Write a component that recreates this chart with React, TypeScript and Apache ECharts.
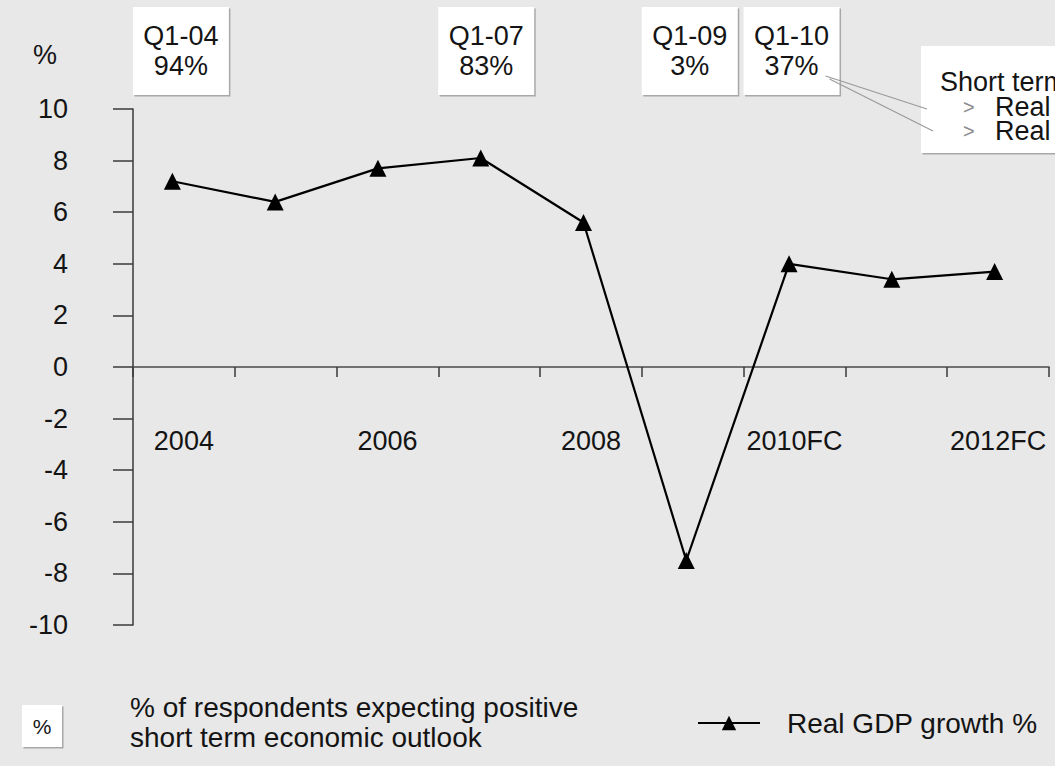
import React, { useEffect, useRef } from "react";
import * as echarts from "echarts";

// ---------- data ----------
const years = ["2004", "2005", "2006", "2007", "2008", "2009", "2010FC", "2011FC", "2012FC"];
const gdpGrowth = [7.2, 6.4, 7.7, 8.1, 5.6, -7.5, 4.0, 3.4, 3.7];
const yMin = -10;
const yMax = 10;
const yStep = 2;
const surveyYears = ["2004", "2007", "2009", "2010FC"];
const surveyQuarters = ["Q1-04", "Q1-07", "Q1-09", "Q1-10"];
const surveyShares = [94, 83, 3, 37];
const seriesName = "Real GDP growth %";
const outlookLegend = ["% of respondents expecting positive", "short term economic outlook"];
const calloutTitle = "Short term economic outlook";
const calloutItems = ["Real GDP growth", "Real private consumption"];
const yUnit = "%";

// ---------- style ----------
const FONT = "'Liberation Sans', Arial, Helvetica, sans-serif";
const FS = 27;
const FS_LEG = 28;
const TXT = "#141414";
const BG = "#e8e8e8";

const GRID_TOP = 109;
const GRID_BOTTOM = 141;
const GRID_H = 766 - GRID_TOP - GRID_BOTTOM;

function whiteBox(x: number, y: number, w: number, h: number) {
  return [
    { type: "rect", shape: { x: x + 1.5, y: y + 1.5, width: w, height: h }, style: { fill: "#a8a8a8" }, z: 10 },
    { type: "rect", shape: { x, y, width: w, height: h }, style: { fill: "#ffffff" }, z: 11 },
  ];
}

function txt(x: number, y: number, text: string, align = "center", size = FS, color = TXT) {
  return {
    type: "text",
    x,
    y,
    z: 12,
    style: { text, fill: color, fontSize: size, fontFamily: FONT, align, verticalAlign: "middle" },
  };
}

export default function App() {
  const ref = useRef<HTMLDivElement>(null);

  useEffect(() => {
    if (!ref.current) return;
    const chart = echarts.init(ref.current, null, { renderer: "svg" });
    // distance from the grid bottom up to the value 0
    const zeroOffset = (GRID_H * (0 - yMin)) / (yMax - yMin);
    const option: any = {
      animation: false,
      backgroundColor: BG,
      textStyle: { fontFamily: FONT },
      grid: [
        { left: 133, right: 6, top: GRID_TOP, bottom: GRID_BOTTOM },
        { left: 121, right: 9, top: GRID_TOP, bottom: GRID_BOTTOM },
      ],
      xAxis: [
        {
          type: "category",
          gridIndex: 0,
          data: years,
          boundaryGap: true,
          position: "bottom",
          offset: -zeroOffset,
          axisLine: { show: true, onZero: false, lineStyle: { color: "#4a4a4a", width: 1.5 } },
          axisTick: { show: true, interval: 0, length: 10, lineStyle: { color: "#3a3a3a", width: 1.5 } },
          axisLabel: { interval: 1, margin: 60, fontSize: FS, color: TXT, fontFamily: FONT },
          splitLine: { show: false },
        },
        { type: "category", gridIndex: 1, data: years, boundaryGap: true, show: false },
      ],
      yAxis: [
        {
          type: "value",
          gridIndex: 0,
          min: yMin,
          max: yMax,
          interval: yStep,
          axisLine: { show: true, lineStyle: { color: "#3a3a3a", width: 1.5 } },
          axisTick: { show: true, length: 20, lineStyle: { color: "#3a3a3a", width: 1.5 } },
          axisLabel: { margin: 65, fontSize: FS, color: TXT, fontFamily: FONT },
          splitLine: { show: false },
        },
        { type: "value", gridIndex: 1, min: yMin, max: yMax, interval: yStep, show: false },
      ],
      legend: {
        data: [{ name: seriesName }],
        left: 692,
        top: 704,
        itemWidth: 62,
        itemHeight: 18,
        textStyle: { fontSize: FS_LEG, color: TXT, fontFamily: FONT, padding: [0, 0, 0, 22] },
      },
      series: [
        {
          type: "line",
          name: seriesName,
          xAxisIndex: 1,
          yAxisIndex: 1,
          data: gdpGrowth,
          symbol: "triangle",
          symbolSize: 17,
          lineStyle: { color: "#000", width: 2.2 },
          itemStyle: { color: "#000" },
          z: 5,
        },
      ],
    };
    chart.setOption(option);

    const els: any[] = [];
    // y unit
    els.push(txt(45, 55, yUnit));
    // survey boxes
    let lastRight = 0;
    surveyYears.forEach((yr, i) => {
      const cx = chart.convertToPixel({ xAxisIndex: 0 }, yr) as number;
      const bx = cx - 51;
      els.push(...whiteBox(bx, 7, 96, 88));
      els.push(txt(bx + 48, 36, surveyQuarters[i]));
      els.push(txt(bx + 48, 66, surveyShares[i] + "%"));
      lastRight = bx + 96;
    });
    // callout
    const cbx = 921;
    els.push(...whiteBox(cbx, 46, 160, 107));
    els.push({
      type: "line",
      z: 13,
      shape: { x1: lastRight - 14, y1: 76, x2: cbx + 6, y2: 109 },
      style: { stroke: "#9a9a9a", lineWidth: 1.2 },
    });
    els.push({
      type: "line",
      z: 13,
      shape: { x1: lastRight - 10, y1: 79, x2: cbx + 12, y2: 131 },
      style: { stroke: "#9a9a9a", lineWidth: 1.2 },
    });
    els.push(txt(cbx + 19, 82, calloutTitle, "left"));
    calloutItems.forEach((t, i) => {
      const y = 107 + i * 24;
      els.push(txt(cbx + 42, y, ">", "left", 20, "#8a8a8a"));
      els.push(txt(cbx + 74, y, t, "left"));
    });
    // legend for survey boxes
    els.push(...whiteBox(22, 705, 40, 42));
    els.push(txt(42, 726, "%", "center", 21));
    els.push(txt(130, 707, outlookLegend[0], "left", FS_LEG));
    els.push(txt(130, 737, outlookLegend[1], "left", FS_LEG));

    chart.setOption({ graphic: { elements: els } });

    return () => chart.dispose();
  }, []);

  return (
    <div
      ref={ref}
      style={{ position: "fixed", left: 0, top: 0, width: 1055, height: 766 }}
    />
  );
}
